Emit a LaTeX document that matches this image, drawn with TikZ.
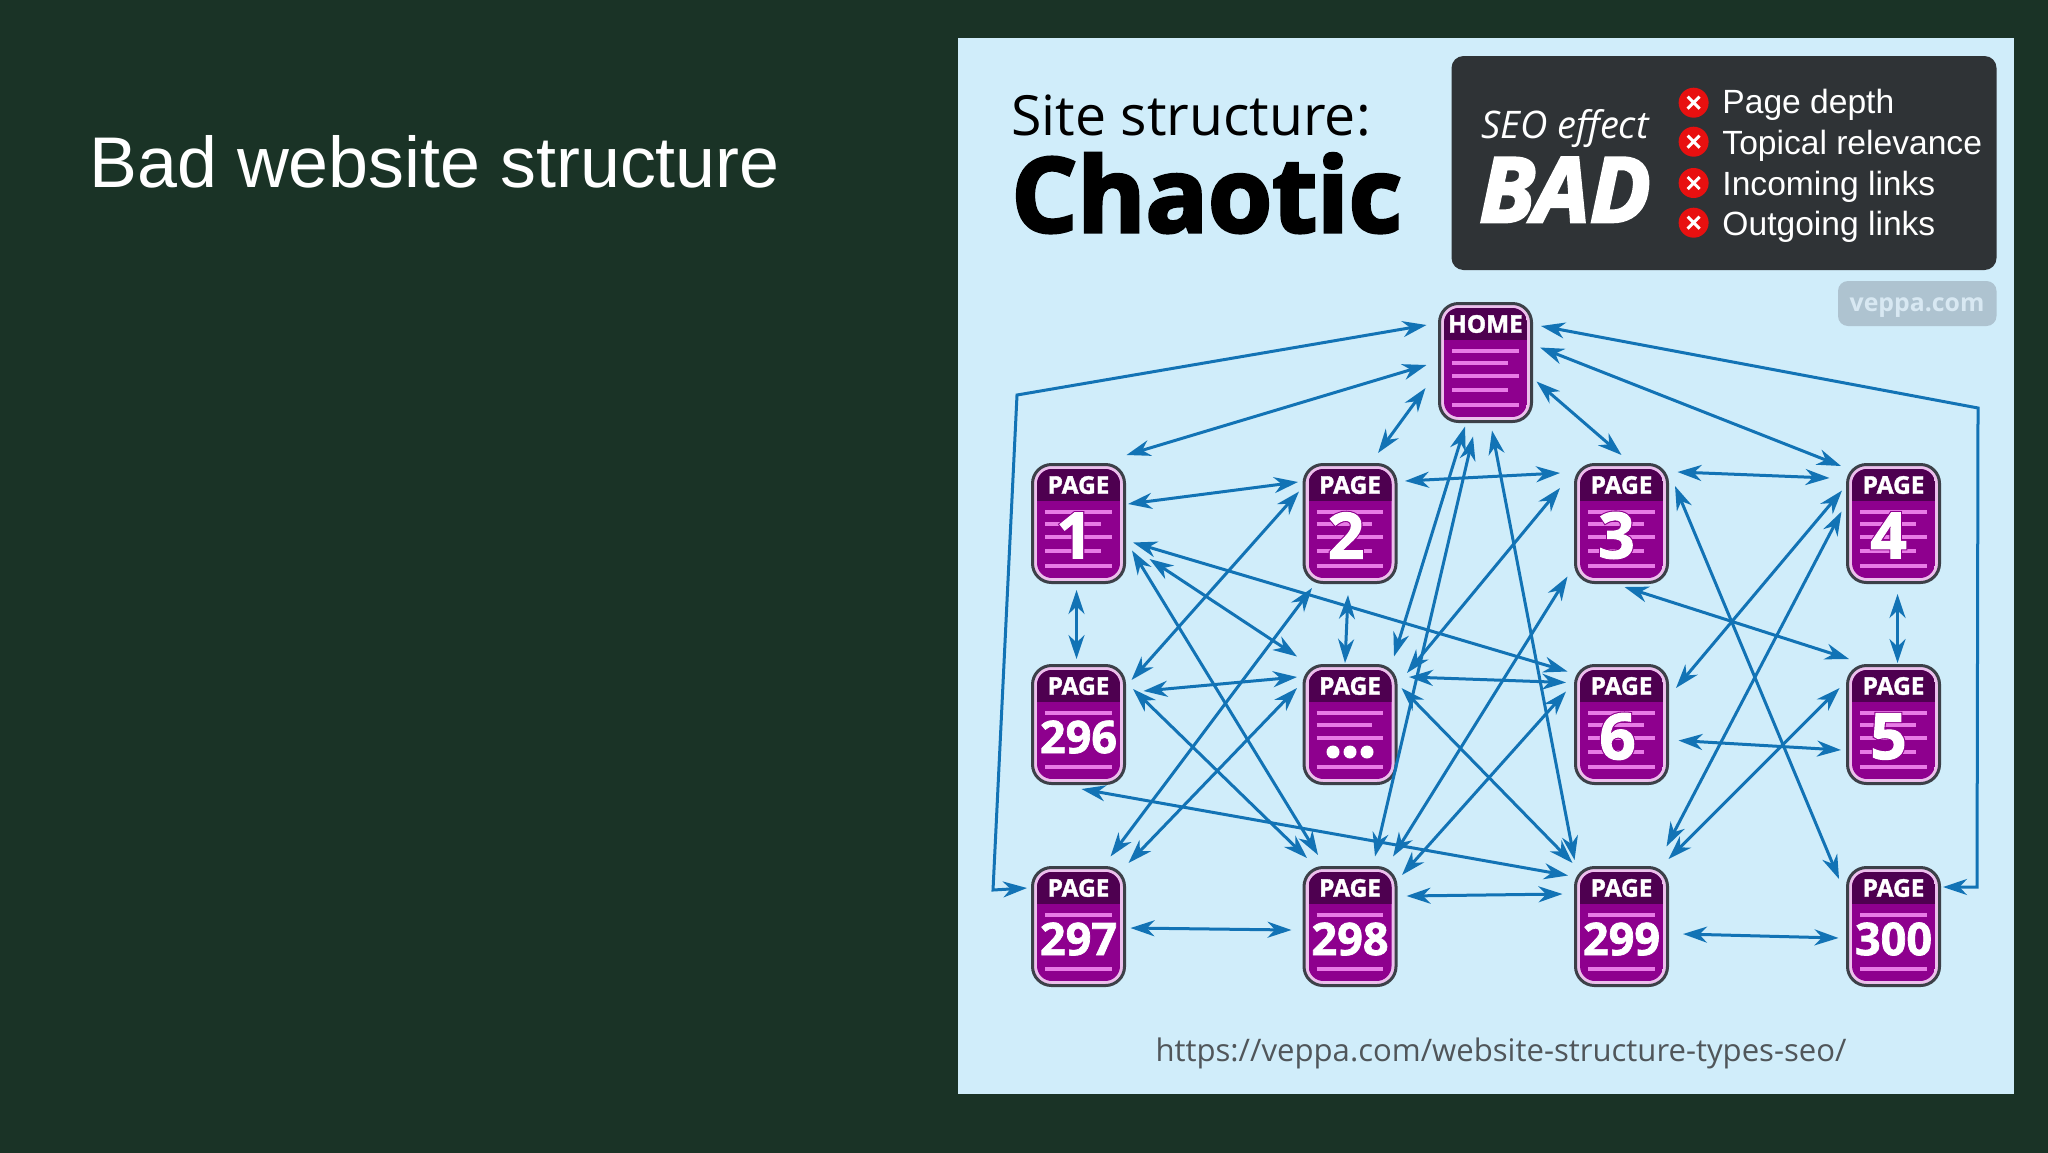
\documentclass[tikz,border=0pt]{standalone}
\usepackage{fontspec}
\usetikzlibrary{arrows.meta}
\setmainfont{Liberation Sans}
\newfontfamily\os{Open Sans}
\newfontfamily\osx[FakeBold=1.6]{Open Sans}
\newfontfamily\osxx[FakeBold=3]{Open Sans}
\newfontfamily\oshalo[FakeBold=5]{Open Sans}
\definecolor{bgdark}{HTML}{1A3326}
\definecolor{panel}{HTML}{D0EDFA}
\definecolor{darkbox}{HTML}{2F3336}
\definecolor{badge}{HTML}{AEC3D0}
\definecolor{badgetext}{HTML}{D8E8F2}
\definecolor{linkblue}{HTML}{1273B5}
\definecolor{cardedge}{HTML}{3C4048}
\definecolor{cardpink}{HTML}{ECC0EC}
\definecolor{cardfill}{HTML}{8E008E}
\definecolor{cardhead}{HTML}{4E0050}
\definecolor{cardline}{HTML}{E87CE6}
\definecolor{urlgrey}{HTML}{50565A}
\definecolor{xred}{HTML}{E81010}
\newcommand\fsz[1]{\fontsize{#1}{#1}\selectfont}
\tikzset{
  x=0.5pt,y=-0.5pt,
  link/.style={draw=linkblue,line width=1.5pt,{Stealth[length=12pt,width=8pt,inset=3.8pt]}-{Stealth[length=12pt,width=8pt,inset=3.8pt]}},
  cardbox/.style={draw=cardedge,line width=1.5pt,fill=cardpink,rounded corners=9.5pt,minimum width=46pt,minimum height=59pt,inner sep=0pt,outer sep=0pt},
  cardtext/.style={inner sep=0pt,outer sep=0pt,text=white},
  rule/.style={draw=cardline,line width=1.9pt},
  legendtext/.style={anchor=base west,inner sep=0pt,text=white,font=\fsz{16.8}},
  xmark/.style={circle,fill=xred,minimum size=15pt,inner sep=0pt},
}
% card: name, x, y, label, body
\newcommand\card[5]{%
  \node[cardbox] (#1) at (#2,#3) {};
  \begin{scope}[shift={(#2,#3)}]
    \begin{scope}
      \clip[rounded corners=7.5pt] (-41.5,-54.5) rectangle (41.5,54.5);
      \fill[cardfill] (-41.5,-54.5) rectangle (41.5,54.5);
      \fill[cardhead] (-41.5,-54.5) rectangle (41.5,-22.5);
    \end{scope}
    \node[cardtext,font=\osx\bfseries\fsz{12.2}] (#1-label) at (0,-38.5) {#4};
    #5
  \end{scope}}
\newcommand\rl[2]{\draw[rule] (-33.5,#1) -- (#2,#1);}
\newcommand\fiverules{\rl{-11.5}{33}\rl{0.5}{22}\rl{13.5}{33}\rl{27.5}{22}\rl{42.5}{33}}
\newcommand\digitbody[3]{\fiverules
  \node[cardtext,text=cardfill,font=\oshalo\bfseries\fsz{32}] (#1-halo) at (#3,12) {#2};
  \node[cardtext,font=\osx\bfseries\fsz{32}] (#1-num) at (#3,12) {#2};}
\newcommand\numbody[2]{\rl{-11.5}{33}\rl{42.5}{33}
  \node[cardtext,font=\osx\bfseries\fsz{22.5}] (#1-num) at (0,12.5) {#2};}
\newcommand\lk[6]{\draw[link] ([shift={(#2,#3)}]#1.center) -- ([shift={(#5,#6)}]#4.center);}
\begin{document}
\begin{tikzpicture}
\useasboundingbox (0,0) rectangle (2048,1152);
\fill[bgdark] (-6,-6) rectangle (2054,1158);
\node[anchor=base west,inner sep=0pt,text=white,font=\fsz{35.9}] (title) at (89,187) {Bad website structure};
\fill[panel] (958,38) rectangle (2014,1094);
\node[anchor=base west,inner sep=0pt,text=black,font=\os\fsz{27.7}] (site) at (1011,135) {Site structure:};
\node[anchor=base west,inner sep=0pt,text=black,font=\osxx\bfseries\fsz{51.8}] (chaotic) at (1011,232) {Chaotic};
\fill[darkbox,rounded corners=6pt] (1451.5,56) rectangle (1996.5,270);
\node[anchor=base,inner sep=0pt,text=white,font=\os\itshape\fsz{19}] (seo) at (1565,138) {SEO effect};
\node[anchor=base,inner sep=0pt,text=white,font=\osxx\bfseries\itshape\fsz{45}] (bad) at (1565,222) {BAD};
\foreach \n/\yy/\yb/\t in {a/102.7/113/Page depth,b/141.7/154/Topical relevance,c/183/195/Incoming links,d/222.7/235/Outgoing links}{
  \node[xmark] (x\n) at (1693.6,\yy) {};
  \draw[white,line width=1.5pt] ([shift={(-6,-6)}]x\n.center) -- ([shift={(6,6)}]x\n.center)
    ([shift={(-6,6)}]x\n.center) -- ([shift={(6,-6)}]x\n.center);
  \node[legendtext] (t\n) at (1722,\yb) {\t};
}
\fill[badge,rounded corners=5pt] (1838,281) rectangle (1996.5,326);
\node[inner sep=0pt,text=badgetext,font=\os\bfseries\fsz{12.4}] (veppa) at (1917,307.5) {veppa.com};
\node[anchor=base,inner sep=0pt,text=urlgrey,font=\os\fsz{15.55}] (url) at (1501,1061.5) {https://veppa.com/website-structure-types-seo/};

\card{h}{1485.5}{362.5}{HOME}{\fiverules}
\card{p1}{1078.5}{523.5}{PAGE}{\digitbody{p1}{1}{-4}}
\card{p2}{1350}{523.5}{PAGE}{\digitbody{p2}{2}{-4}}
\card{p3}{1621.5}{523.5}{PAGE}{\digitbody{p3}{3}{-5}}
\card{p4}{1893.5}{523.5}{PAGE}{\digitbody{p4}{4}{-5}}
\card{a}{1078.5}{724.5}{PAGE}{\numbody{a}{296}}
\card{d}{1350}{724.5}{PAGE}{\rl{-11.5}{33}\rl{0.5}{22}\rl{13.5}{33}\rl{42.5}{33}
  \foreach \k in {-1,0,1}{\fill[white] (\k*17,27.5) circle (6.5);}}
\card{p6}{1621.5}{724.5}{PAGE}{\digitbody{p6}{6}{-4}}
\card{p5}{1893.5}{724.5}{PAGE}{\digitbody{p5}{5}{-5}}
\card{b}{1078.5}{926.5}{PAGE}{\numbody{b}{297}}
\card{c}{1350}{926.5}{PAGE}{\numbody{c}{298}}
\card{e}{1621.5}{926.5}{PAGE}{\numbody{e}{299}}
\card{f}{1893.5}{926.5}{PAGE}{\numbody{f}{300}}

\coordinate (cTL) at (1017,395);
\coordinate (cBL) at (993,890);
\coordinate (cTR) at (1978,408);
\coordinate (cBR) at (1977,887);
\draw[link,line join=miter] ([shift={(-59,-37.5)}]h.center) -- (cTL) -- (cBL) -- ([shift={(-51.5,-38.5)}]b.center);
\draw[link,line join=miter] ([shift={(55.5,-36.5)}]h.center) -- (cTR) -- (cBR) -- ([shift={(49.5,-39.5)}]f.center);
\lk{h}{-59}{2.5}{p1}{48}{-68.5}
\lk{h}{-60}{25.5}{p2}{28}{-70.5}
\lk{p1}{49.5}{-19.5}{p2}{-52}{-41.5}
\lk{p2}{55}{-42.5}{p3}{-61.5}{-50.5}
\lk{p3}{56}{-51.5}{p4}{-64}{-45.5}
\lk{h}{51}{19}{p3}{0}{-68.5}
\lk{h}{54.5}{-15}{p4}{-52.5}{-57.5}
\lk{p1}{-2}{66.5}{a}{-2}{-65.5}
\lk{p2}{-2}{71.5}{d}{-5}{-61.5}
\lk{p4}{4}{70.5}{p5}{4}{-61.5}
\lk{p3}{3}{63.5}{p5}{-44.5}{-65.5}
\lk{p1}{54.5}{19}{p6}{-54}{-53}
\lk{p1}{71}{35.5}{d}{-53}{-68}
\lk{p1}{53.5}{27}{c}{-32}{-71.5}
\lk{a}{53}{-44.5}{p2}{-51}{-32}
\lk{a}{65}{-33.5}{d}{-53}{-47.5}
\lk{a}{54.5}{-35.5}{c}{-43}{-68.5}
\lk{p2}{-38}{64.5}{b}{32}{-70}
\lk{d}{-53}{-36.5}{b}{50}{-63.5}
\lk{a}{3}{64.5}{e}{-53.5}{-51}
\lk{b}{52}{1.5}{c}{-58.5}{3.5}
\lk{c}{56.5}{-30.5}{e}{-59}{-32.5}
\lk{e}{61.5}{7.5}{f}{-55}{11.5}
\lk{p6}{57}{16}{p5}{-52.5}{25.5}
\lk{d}{59}{-47.5}{p6}{-55.5}{-42}
\lk{d}{44}{-68}{h}{-20.5}{64}
\lk{c}{25}{-70}{h}{-12.5}{74}
\lk{e}{-47}{-66.5}{h}{6.5}{68}
\lk{d}{57}{-51.5}{p3}{-61.5}{-35.5}
\lk{c}{43}{-70}{p3}{-54}{53}
\lk{c}{52}{-51.5}{p6}{-55.5}{-33}
\lk{d}{51.5}{-36.5}{e}{-49}{-63.5}
\lk{p4}{-51.5}{-33}{p6}{54.5}{-36.5}
\lk{p4}{-52}{-12}{e}{45}{-80}
\lk{p5}{-54}{-36.5}{e}{47}{-67.5}
\lk{p3}{53.5}{-37.5}{f}{-54.5}{-47.5}
\end{tikzpicture}
\end{document}
